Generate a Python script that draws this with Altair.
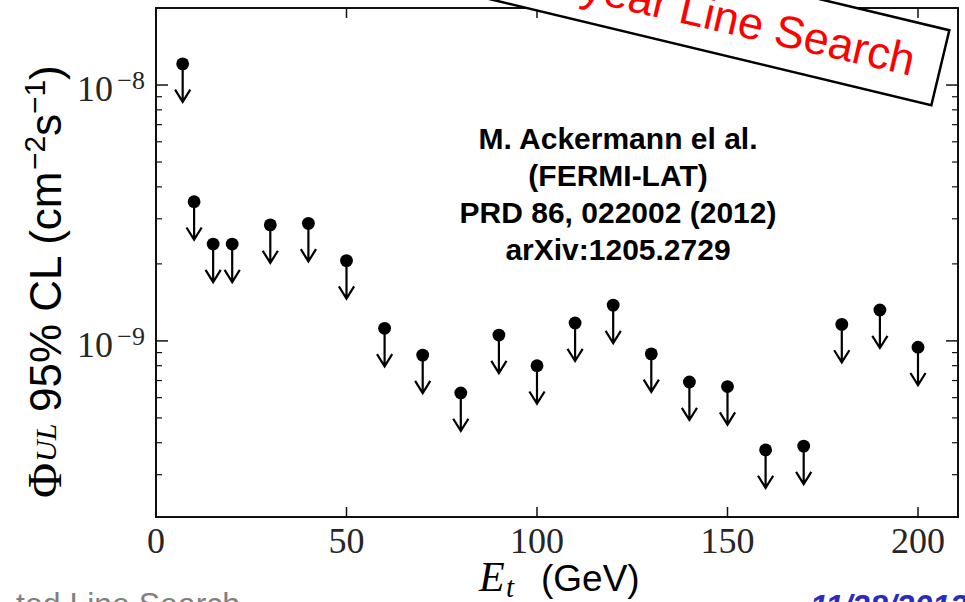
import altair as alt
import pandas as pd

# ---------------- data ----------------
energy = [7, 10, 15, 20, 30, 40, 50, 60, 70, 80, 90, 100, 110, 120, 130, 140,
          150, 160, 170, 180, 190, 200]
flux_ul = [1.21e-8, 3.50e-9, 2.39e-9, 2.39e-9, 2.84e-9, 2.88e-9, 2.06e-9,
           1.12e-9, 8.8e-10, 6.26e-10, 1.054e-9, 8.0e-10, 1.175e-9, 1.38e-9,
           8.9e-10, 6.91e-10, 6.63e-10, 3.75e-10, 3.88e-10, 1.16e-9, 1.32e-9,
           9.45e-10]

x_tick_values = [0, 50, 100, 150, 200]
x_tick_labels = ["0", "50", "100", "150", "200"]
y_major_values = [1e-9, 1e-8]
y_major_base = ["10", "10"]
y_major_exp = ["\u22129", "\u22128"]
y_minor_values = [3e-10, 4e-10, 5e-10, 6e-10, 7e-10, 8e-10, 9e-10,
                  2e-9, 3e-9, 4e-9, 5e-9, 6e-9, 7e-9, 8e-9, 9e-9]

ref_lines = "M. Ackermann el al.\n(FERMI-LAT)\nPRD 86, 022002 (2012)\narXiv:1205.2729"
banner_text = "Fermi-LAT 3.7 year Line Search"
footer_left = "ted Line Search"
footer_right = "11/28/2012"

# ---------------- layout ----------------
W, H = 802, 509
SERIF = "Liberation Serif"
SANS = "Liberation Sans"
INK = "#111111"

xs = alt.Scale(domain=[0, 210.5], nice=False, zero=False)
ys = alt.Scale(type="log", domain=[2.05e-10, 2.0e-8], nice=False)

df = pd.DataFrame({"E": energy, "flux": flux_ul})
df_xt = pd.DataFrame({"v": x_tick_values, "lab": x_tick_labels})
df_ymaj = pd.DataFrame({"v": y_major_values, "base": y_major_base, "exp": y_major_exp})
df_ymin = pd.DataFrame({"v": y_minor_values})
one = pd.DataFrame({"k": [0]})


def X(field):
    return alt.X(field, type="quantitative", scale=xs, axis=None)


def Y(field):
    return alt.Y(field, type="quantitative", scale=ys, axis=None)


def label(text, **kw):
    return alt.Chart(pd.DataFrame({"t": [text]})).mark_text(**kw).encode(text="t:N")


layers = []

# frame
layers.append(
    alt.Chart(one).mark_rect(filled=False, stroke=INK, strokeWidth=2).encode(
        x=alt.value(0), x2=alt.value(W), y=alt.value(0), y2=alt.value(H))
)

# inward ticks
for x0, x1 in [(0, 12), (W, W - 12)]:
    layers.append(alt.Chart(df_ymaj).mark_rule(color=INK, strokeWidth=1.5).encode(
        y=Y("v"), x=alt.value(x0), x2=alt.value(x1)))
for x0, x1 in [(0, 6), (W, W - 6)]:
    layers.append(alt.Chart(df_ymin).mark_rule(color=INK, strokeWidth=1.2).encode(
        y=Y("v"), x=alt.value(x0), x2=alt.value(x1)))
for y0, y1 in [(H, H - 10), (0, 10)]:
    layers.append(alt.Chart(df_xt).mark_rule(color=INK, strokeWidth=1.5).encode(
        x=X("v"), y=alt.value(y0), y2=alt.value(y1)))

# tick labels
layers.append(alt.Chart(df_xt).mark_text(
    font=SERIF, fontSize=36, align="center", baseline="alphabetic", color="#262626"
).encode(x=X("v"), y=alt.value(545), text="lab:N"))
layers.append(alt.Chart(df_ymaj).mark_text(
    font=SERIF, fontSize=36, align="right", baseline="alphabetic", dy=16, color="#262626"
).encode(y=Y("v"), x=alt.value(-43), text="base:N"))
layers.append(alt.Chart(df_ymaj).mark_text(
    font=SERIF, fontSize=26, align="right", baseline="alphabetic", dy=4, color="#262626"
).encode(y=Y("v"), x=alt.value(-11), text="exp:N"))

# upper-limit arrows and points
ARROW = "M0,0L0,2M-0.4,1.36L0,2L0.4,1.36"
layers.append(alt.Chart(df).mark_point(
    shape=ARROW, filled=False, color="black", strokeWidth=2.2, size=1444, opacity=1
).encode(x=X("E"), y=Y("flux")))
layers.append(alt.Chart(df).mark_circle(size=165, color="black", opacity=1).encode(
    x=X("E"), y=Y("flux")))

# reference annotation
layers.append(label(ref_lines, font=SANS, fontSize=30, fontWeight="bold", align="center",
                    baseline="alphabetic", lineBreak="\n", lineHeight=37,
                    color="black").encode(x=alt.value(462), y=alt.value(141)))

# rotated banner
BOX = "M-1,-0.11L1,-0.11L1,0.11L-1,0.11Z"
layers.append(alt.Chart(one).mark_point(
    shape=BOX, filled=True, fill="white", stroke="black", strokeWidth=2.5,
    size=490000, angle=13.5, opacity=1
).encode(x=alt.value(444), y=alt.value(-22)))
layers.append(label(banner_text, font=SANS, fontSize=45, color="#ff0000", angle=13,
                    align="right", baseline="alphabetic").encode(
    x=alt.value(755), y=alt.value(68)))

# y-axis title pieces (rotated, reading upward)
ytitle = [
    ("\u03a6", SERIF, 48, "normal", -95, 490),
    ("UL", SERIF, 30, "italic", -100, 454),
    ("95% CL (cm", SANS, 44, "normal", -95, 404),
    ("\u22122", SANS, 30, "normal", -111, 162),
    ("s", SANS, 44, "normal", -95, 128),
    ("\u22121", SANS, 30, "normal", -111, 106),
    (")", SANS, 44, "normal", -95, 72),
]
for txt, fnt, fs, sty, px, py in ytitle:
    layers.append(label(txt, font=fnt, fontSize=fs, fontStyle=sty, angle=270,
                        align="left", baseline="alphabetic", color="black").encode(
        x=alt.value(px), y=alt.value(py)))

# x-axis title pieces
xtitle = [
    ("E", SERIF, 42, "italic", 323, 583),
    ("t", SERIF, 29, "italic", 350, 589),
    ("(GeV)", SANS, 37, "normal", 385, 583),
]
for txt, fnt, fs, sty, px, py in xtitle:
    layers.append(label(txt, font=fnt, fontSize=fs, fontStyle=sty, align="left",
                        baseline="alphabetic", color="black").encode(
        x=alt.value(px), y=alt.value(py)))

# slide footers (cut by the frame)
layers.append(label(footer_left, font=SANS, fontSize=32, color="#808080", align="left",
                    baseline="alphabetic").encode(x=alt.value(-140), y=alt.value(607)))
layers.append(label(footer_right, font=SANS, fontSize=32, fontWeight="bold",
                    fontStyle="italic", color="#2b2bc0", align="left",
                    baseline="alphabetic").encode(x=alt.value(654), y=alt.value(609)))

chart = alt.layer(*layers).properties(
    width=W, height=H,
    autosize=alt.AutoSizeParams(type="none"),
    padding={"left": 156, "top": 8, "right": 7, "bottom": 85},
    background="white",
).configure_view(stroke=None)

chart.save("out.html", embed_options={"renderer": "svg", "actions": False})
